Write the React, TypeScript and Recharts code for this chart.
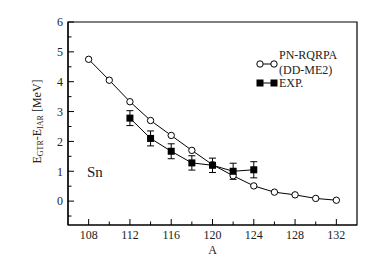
import React from "react";
import {
  LineChart,
  Line,
  XAxis,
  YAxis,
  ErrorBar,
  ReferenceArea,
  ReferenceDot,
} from "recharts";

// ---- data ----
const theoryA = [108, 110, 112, 114, 116, 118, 120, 122, 124, 126, 128, 130, 132];
const theoryE = [4.75, 4.05, 3.33, 2.7, 2.2, 1.7, 1.22, 0.85, 0.51, 0.3, 0.21, 0.09, 0.03];

const expA = [112, 114, 116, 118, 120, 122, 124];
const expE = [2.78, 2.1, 1.67, 1.28, 1.2, 1.0, 1.05];
const expErr = [0.25, 0.25, 0.25, 0.24, 0.24, 0.27, 0.27];

const xTicks = [108, 110, 112, 114, 116, 118, 120, 122, 124, 126, 128, 130, 132];
const xMajor = [108, 112, 116, 120, 124, 128, 132];
const yTicks = [-0.5, 0, 0.5, 1, 1.5, 2, 2.5, 3, 3.5, 4, 4.5, 5, 5.5, 6];
const yMajor = [0, 1, 2, 3, 4, 5, 6];

const theoryLabel1 = "PN-RQRPA";
const theoryLabel2 = "(DD-ME2)";
const expLabel = "EXP.";
const regionLabel = "Sn";

const theoryData = theoryA.map((a, i) => ({ A: a, E: theoryE[i] }));
const expData = expA.map((a, i) => ({ A: a, E: expE[i], err: expErr[i] }));

const FONT = "Liberation Serif, Times New Roman, serif";
const TXT = { fontFamily: FONT };
const TM = 5;

const XTick = (props: any) => {
  const { x, y, payload } = props;
  const major = xMajor.includes(payload.value);
  const axisY = y - TM;
  return (
    <g>
      <line x1={x} x2={x} y1={axisY} y2={axisY - (major ? 6 : 3.5)} stroke="#000" strokeWidth={1} />
      {major && (
        <text x={x} y={y} dy="0.71em" textAnchor="middle" fontSize={12} style={TXT} fill="#222">
          {payload.value}
        </text>
      )}
    </g>
  );
};

const YTick = (props: any) => {
  const { x, y, payload } = props;
  const major = yMajor.includes(payload.value);
  const axisX = x + TM;
  return (
    <g>
      <line x1={axisX} x2={axisX + (major ? 6 : 3.5)} y1={y} y2={y} stroke="#000" strokeWidth={1} />
      {major && (
        <text x={x} y={y} dy="0.355em" textAnchor="end" fontSize={12} style={TXT} fill="#222">
          {payload.value}
        </text>
      )}
    </g>
  );
};

const YLabel = (props: any) => {
  const vb = props.viewBox || {};
  const cx = vb.x - 1;
  const cy = vb.y + vb.height / 2 - 2;
  return (
    <text
      x={cx}
      y={cy}
      textAnchor="middle"
      dominantBaseline="central"
      transform={`rotate(-90, ${cx}, ${cy})`}
      fontSize={12}
      style={TXT}
      fill="#222"
    >
      <tspan>E</tspan>
      <tspan fontSize={8} dy={3}>GTR</tspan>
      <tspan dy={-3}>-E</tspan>
      <tspan fontSize={8} dy={3}>IAR</tspan>
      <tspan dy={-3}> [MeV]</tspan>
    </text>
  );
};

const XLabel = (props: any) => {
  const vb = props.viewBox || {};
  return (
    <text
      x={vb.x + vb.width / 2}
      y={vb.y + 25}
      textAnchor="middle"
      dominantBaseline="central"
      fontSize={12}
      style={TXT}
      fill="#222"
    >
      A
    </text>
  );
};

const SquareDot = (props: any) => {
  const { cx, cy, index } = props;
  if (cx == null || cy == null) return <g key={`s-${index}`} />;
  return <rect key={`s-${index}`} x={cx - 3.5} y={cy - 3.5} width={7} height={7} fill="#000" />;
};

const LegendBox = () => (
  <svg
    width={110}
    height={50}
    style={{ position: "absolute", left: 256, top: 46, display: "block" }}
  >
    <line x1={3} x2={19} y1={18} y2={18} stroke="#000" strokeWidth={1} />
    <circle cx={4} cy={18} r={3.2} fill="#fff" stroke="#000" />
    <circle cx={18} cy={18} r={3.2} fill="#fff" stroke="#000" />
    <text x={23} y={9} dominantBaseline="central" fontSize={12} style={TXT} fill="#222">
      {theoryLabel1}
    </text>
    <text x={23} y={24} dominantBaseline="central" fontSize={12} style={TXT} fill="#222">
      {theoryLabel2}
    </text>
    <line x1={3} x2={19} y1={37} y2={37} stroke="#000" strokeWidth={1} />
    <rect x={0.5} y={33.5} width={7} height={7} fill="#000" />
    <rect x={14.5} y={33.5} width={7} height={7} fill="#000" />
    <text x={23} y={37} dominantBaseline="central" fontSize={12} style={TXT} fill="#222">
      {expLabel}
    </text>
  </svg>
);

export default function App() {
  return (
    <div style={{ position: "absolute", left: 0, top: 0, width: 390, height: 276, background: "#fff" }}>
      <LineChart width={390} height={276} margin={{ top: 22, right: 33, bottom: 0, left: 38 }}>
        <XAxis
          dataKey="A"
          type="number"
          domain={[106, 134]}
          ticks={xTicks}
          interval={0}
          allowDataOverflow
          height={51}
          tickSize={0}
          tickMargin={TM}
          tick={<XTick />}
          axisLine={{ stroke: "#000", strokeWidth: 1.2 }}
          label={<XLabel />}
        />
        <YAxis
          type="number"
          domain={[-0.8, 6]}
          ticks={yTicks}
          interval={0}
          allowDataOverflow
          width={30}
          tickSize={0}
          tickMargin={TM}
          tick={<YTick />}
          axisLine={{ stroke: "#000", strokeWidth: 1.2 }}
          label={<YLabel />}
        />
        <ReferenceArea x1={106} x2={134} y1={-0.8} y2={6} fill="none" stroke="#000" strokeWidth={1.2} ifOverflow="visible" />
        <ReferenceDot
          x={108.6}
          y={0.97}
          r={0}
          fill="none"
          stroke="none"
          label={{ value: regionLabel, position: "center", fontSize: 15, style: TXT, fill: "#222" }}
        />
        <Line
          data={theoryData}
          dataKey="E"
          stroke="#000"
          strokeWidth={1}
          dot={{ r: 3.2, fill: "#fff", stroke: "#000", strokeWidth: 1 }}
          isAnimationActive={false}
        />
        <Line
          data={expData}
          dataKey="E"
          stroke="#000"
          strokeWidth={1}
          dot={<SquareDot />}
          isAnimationActive={false}
        >
          <ErrorBar dataKey="err" width={3.5} stroke="#000" strokeWidth={1} direction="y" isAnimationActive={false} />
        </Line>
      </LineChart>
      <LegendBox />
    </div>
  );
}
